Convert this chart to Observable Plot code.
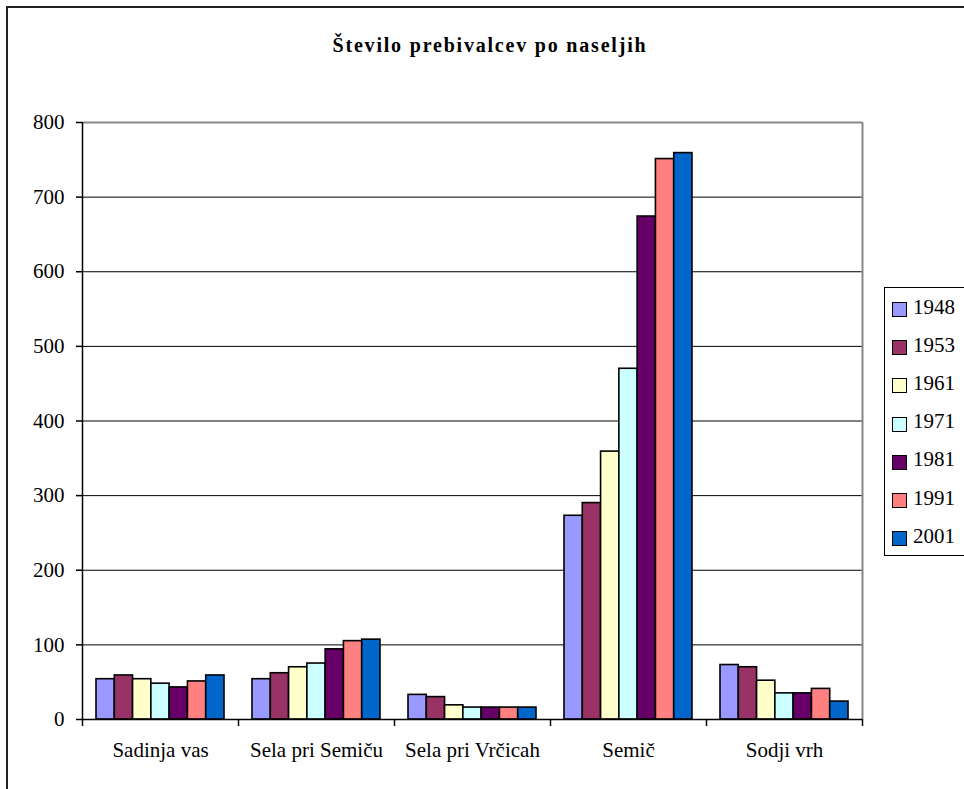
<!DOCTYPE html>
<html>
<head>
<meta charset="utf-8">
<script src="https://cdn.jsdelivr.net/npm/d3@7"></script>
<script src="https://cdn.jsdelivr.net/npm/@observablehq/plot@0.6"></script>
<style>
  html, body { margin: 0; padding: 0; background: #fff; overflow: hidden; }
  #wrap { position: relative; width: 964px; height: 789px; overflow: hidden; font-family: "Liberation Serif", "Times New Roman", serif; }
  #outer { position: absolute; left: 6px; top: 6px; width: 1000px; height: 900px; border: 2px solid #222; box-sizing: border-box; }
  #title { position: absolute; left: 0; top: 35px; width: 980px; text-align: center; font-weight: bold; font-size: 20px; line-height: 20px; letter-spacing: 1.8px; color: #000; }
  #legend { position: absolute; left: 884px; top: 287px; width: 120px; border: 1px solid #000; background: #fff; }
  .row { height: 38.2px; display: flex; align-items: center; }
  .sw { width: 13px; height: 13px; border: 1.5px solid #000; margin-left: 7px; margin-right: 6px; margin-top: 5px; }
  .lab { font-size: 21px; color: #000; }
  svg { position: absolute; left: 0; top: 0; font-family: "Liberation Serif", "Times New Roman", serif; }
</style>
</head>
<body>
<div id="wrap">
  <div id="outer"></div>
</div>
<script>
const categories = ["Sadinja vas", "Sela pri Semiču", "Sela pri Vrčicah", "Semič", "Sodji vrh"];
const years = ["1948", "1953", "1961", "1971", "1981", "1991", "2001"];
const s1948 = [54, 54, 33, 273, 73];
const s1953 = [59, 62, 30, 290, 70];
const s1961 = [54, 70, 19, 359, 52];
const s1971 = [48, 75, 16, 470, 35];
const s1981 = [43, 94, 16, 674, 35];
const s1991 = [51, 105, 16, 751, 41];
const s2001 = [59, 107, 16, 759, 24];
const series = [s1948, s1953, s1961, s1971, s1981, s1991, s2001];
const colors = ["#9999FF", "#993366", "#FFFFCC", "#CCFFFF", "#660066", "#FF8080", "#0066CC"];
const yTicks = [0, 100, 200, 300, 400, 500, 600, 700, 800];
const gridTicks = [100, 200, 300, 400, 500, 600, 700];
const titleText = "Število prebivalcev po naseljih";

const FONT = "'Liberation Serif', 'Times New Roman', serif";
const W = 964, H = 789, ML = 82, MR = 102, MT = 122, MB = 70;
const band = (W - ML - MR) / categories.length;
const groupPad = 14 / 156;
const barW = band * (1 - 2 * groupPad) / years.length;
const inset = (band - barW) / 2;
const mid = (years.length - 1) / 2;

const barMarks = series.map((vals, i) =>
  Plot.barY(categories.map((c, j) => ({cat: c, v: vals[j]})), {
    x: "cat", y: "v", fill: colors[i], stroke: "#000", strokeWidth: 1.6,
    insetLeft: inset, insetRight: inset, dx: (i - mid) * barW
  })
);

const chart = Plot.plot({
  width: W, height: H,
  marginLeft: ML, marginRight: MR, marginTop: MT, marginBottom: MB,
  style: {fontFamily: FONT, fontSize: "21px", color: "#000", background: "transparent", overflow: "visible"},
  x: {type: "band", domain: categories, padding: 0},
  y: {domain: [0, 800]},
  marks: [
    Plot.gridY({ticks: gridTicks, stroke: "#000", strokeOpacity: 1, strokeWidth: 1}),
    Plot.ruleY([800], {stroke: "#888", strokeWidth: 2}),
    Plot.ruleX([categories[categories.length - 1]], {dx: band / 2, stroke: "#888", strokeWidth: 2}),
    ...barMarks,
    Plot.ruleY([0], {stroke: "#000", strokeWidth: 1.5}),
    Plot.ruleX([categories[0]], {dx: -band / 2, stroke: "#000", strokeWidth: 1.5}),
    Plot.axisX({tickSize: 7, tickFormat: () => "", dx: -band / 2, label: null, strokeWidth: 1.5}),
    Plot.axisX({ticks: [categories[categories.length - 1]], tickSize: 7, tickFormat: () => "", dx: band / 2, label: null, strokeWidth: 1.5}),
    Plot.axisX({tickSize: 0, tickPadding: 23, fontSize: 21, fontFamily: FONT, label: null}),
    Plot.axisY({ticks: yTicks, tickSize: 6, tickPadding: 12, fontSize: 21, fontFamily: FONT, label: null, strokeWidth: 1.5})
  ]
});

const wrap = document.getElementById("wrap");
wrap.appendChild(chart);

const t = document.createElement("div");
t.id = "title";
t.textContent = titleText;
wrap.appendChild(t);

const lg = document.createElement("div");
lg.id = "legend";
years.forEach((y, i) => {
  const r = document.createElement("div");
  r.className = "row";
  const s = document.createElement("div");
  s.className = "sw";
  s.style.background = colors[i];
  const l = document.createElement("span");
  l.className = "lab";
  l.textContent = y;
  r.appendChild(s); r.appendChild(l);
  lg.appendChild(r);
});
wrap.appendChild(lg);
</script>
</body>
</html>
